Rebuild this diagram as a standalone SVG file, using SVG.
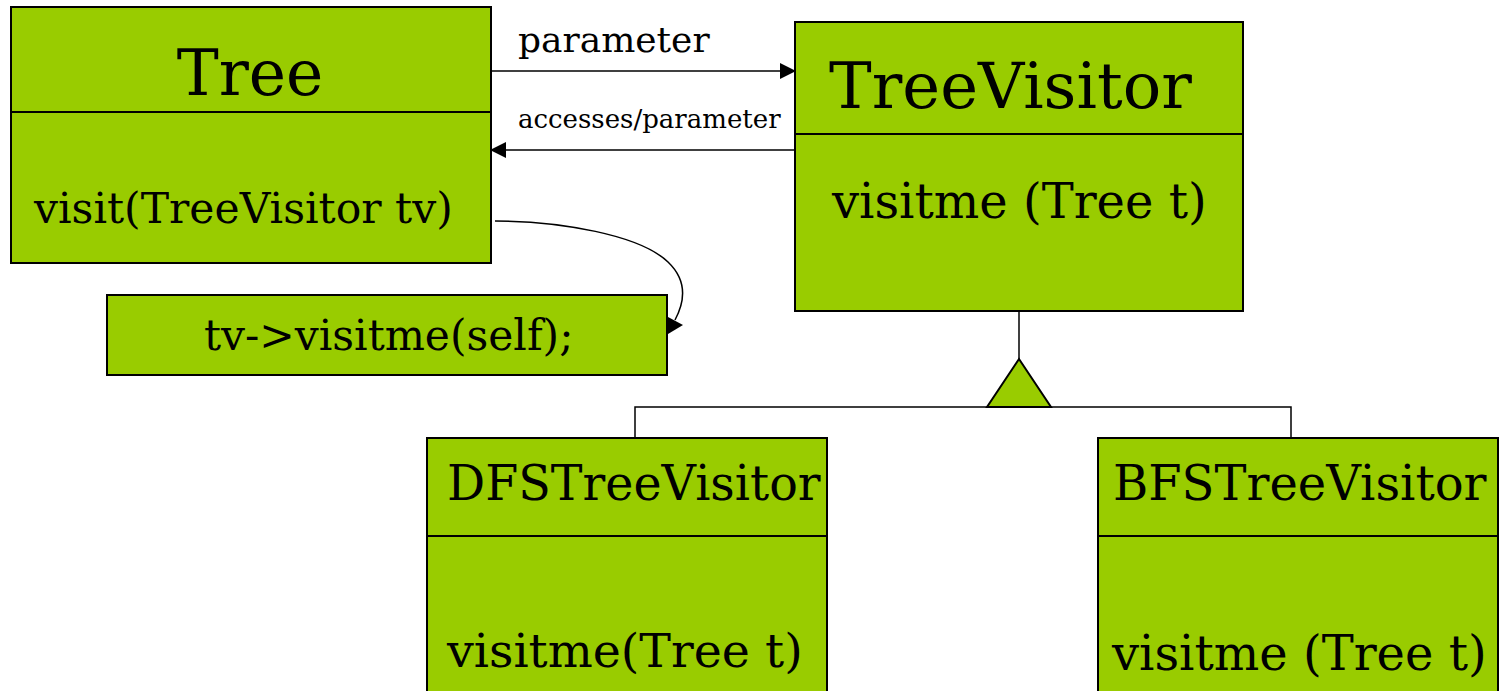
<svg xmlns="http://www.w3.org/2000/svg" width="1499" height="691" viewBox="0 0 1499 691">
  <style>
    .box { fill: #99cc00; stroke: #000; stroke-width: 2; }
    .sep { stroke: #000; stroke-width: 2; fill: none; }
    .txt { font-family: "DejaVu Serif", "Liberation Serif", serif; fill: #000; }
    .line { stroke: #000; stroke-width: 1.5; fill: none; }
  </style>
  <defs>
    <marker id="arrow" viewBox="0 0 16 16" refX="15" refY="8" markerWidth="16" markerHeight="16" markerUnits="userSpaceOnUse" orient="auto">
      <path d="M0,0 L16,8 L0,16 Z" fill="#000"/>
    </marker>
  </defs>

  <!-- connectors -->
  <g id="connectors">
    <line class="line" x1="491" y1="71" x2="795" y2="71" marker-end="url(#arrow)"/>
    <line class="line" x1="795" y1="150" x2="491" y2="150" stroke-width="2.5" marker-end="url(#arrow)"/>
    <path class="line" d="M495,221 C560,221 640,235 668,262 C690,283 683,305 675,320"/>
    <polygon points="668,317 683,325 668,334" fill="#000"/>
    <!-- generalization -->
    <polyline class="line" points="635,438 635,407 1291,407 1291,438"/>
    <line class="line" x1="1019" y1="311" x2="1019" y2="359"/>
    <polygon points="1019,359 987,407 1051,407" fill="#99cc00" stroke="#000" stroke-width="2"/>
  </g>

  <g id="tree">
    <rect class="box" x="11" y="7" width="480" height="256"/>
    <line class="sep" x1="11" y1="112" x2="491" y2="112"/>
    <text class="txt" x="250" y="95" font-size="63" text-anchor="middle">Tree</text>
    <text class="txt" x="34" y="223" font-size="42.5">visit(TreeVisitor tv)</text>
  </g>

  <g id="call">
    <rect class="box" x="107" y="295" width="560" height="80"/>
    <text class="txt" x="204" y="350" font-size="42.4">tv-&gt;visitme(self);</text>
  </g>

  <g id="labels">
    <text class="txt" x="518" y="52" font-size="36">parameter</text>
    <text class="txt" x="518" y="128" font-size="26">accesses/parameter</text>
  </g>

  <g id="treevisitor">
    <rect class="box" x="795" y="22" width="448" height="289"/>
    <line class="sep" x1="795" y1="134" x2="1243" y2="134"/>
    <text class="txt" x="829" y="108" font-size="64">TreeVisitor</text>
    <text class="txt" x="832" y="218" font-size="48">visitme (Tree t)</text>
  </g>

  <g id="dfs">
    <rect class="box" x="427" y="438" width="400" height="260"/>
    <line class="sep" x1="427" y1="536" x2="827" y2="536"/>
    <text class="txt" x="447" y="500" font-size="47.6">DFSTreeVisitor</text>
    <text class="txt" x="447" y="667" font-size="47.5">visitme(Tree t)</text>
  </g>

  <g id="bfs">
    <rect class="box" x="1098" y="438" width="400" height="260"/>
    <line class="sep" x1="1098" y1="536" x2="1498" y2="536"/>
    <text class="txt" x="1113" y="500" font-size="48">BFSTreeVisitor</text>
    <text class="txt" x="1112" y="670" font-size="48">visitme (Tree t)</text>
  </g>
</svg>
